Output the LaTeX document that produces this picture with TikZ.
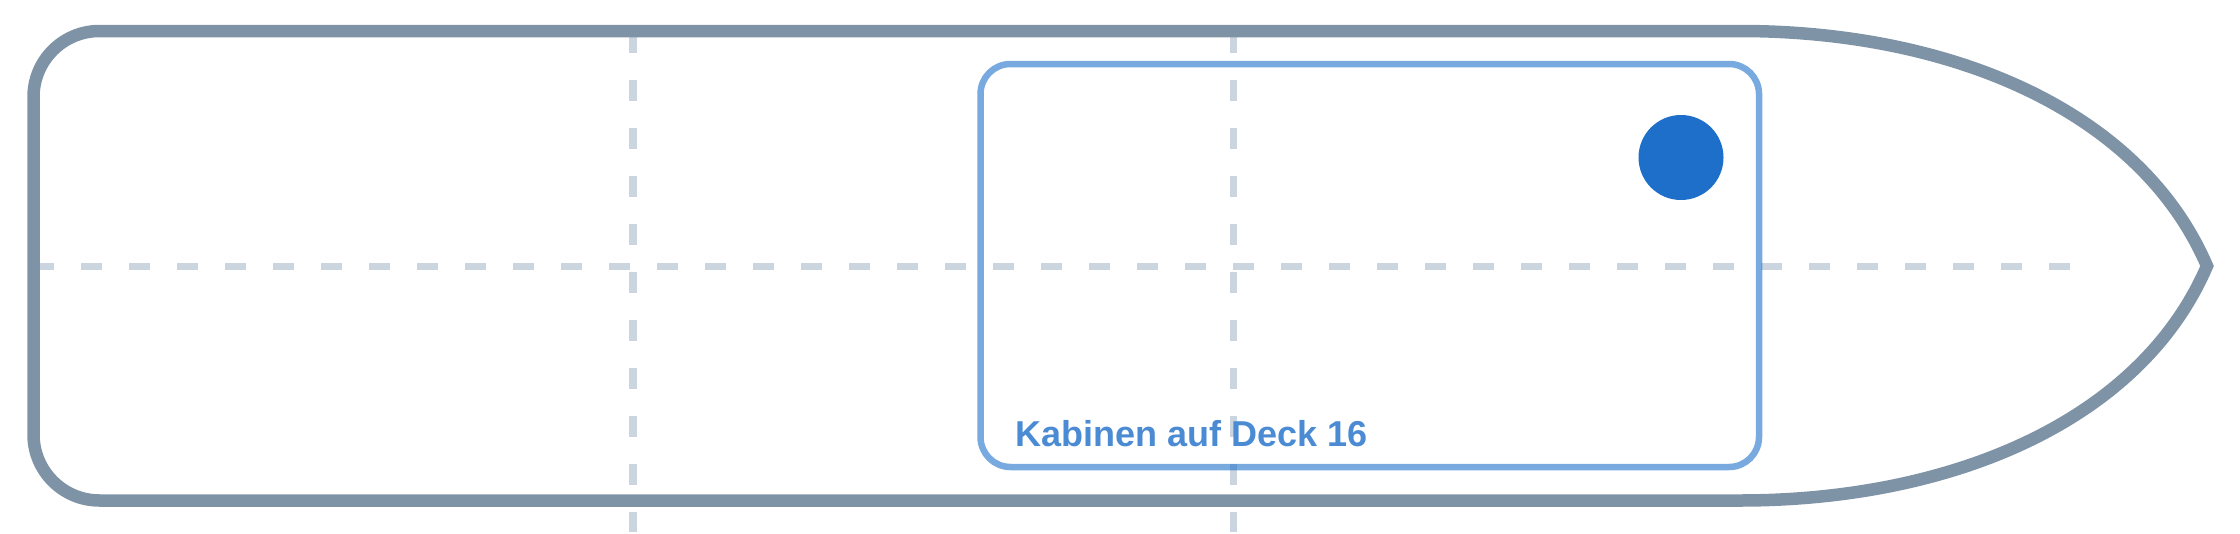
\documentclass[tikz,border=0pt]{standalone}
\usepackage{fontspec}
\setmainfont{Liberation Sans}
\definecolor{hullgray}{RGB}{127,147,167}
\definecolor{deckline}{RGB}{203,213,224}
\definecolor{cabinblue}{RGB}{30,111,202}
\definecolor{labelblue}{RGB}{75,139,212}
\begin{document}
\begin{tikzpicture}[x=1pt,y=-1pt,
	hull/.style={draw=hullgray,line width=12.5pt,line join=miter},
	axisline/.style={draw=deckline,line width=7.5pt,dash pattern=on 21.3pt off 26.7pt},
	cabin/.style={draw=cabinblue,draw opacity=0.6,line width=6.5pt,rounded corners=30pt}]
		\useasboundingbox (0,0) rectangle (2240,533);
		
		\draw [axisline] (33,266.5) -- (2070,266.5);
		\foreach \x in {633,1233.5}
			\draw [axisline] (\x,31.5) -- (\x,532);
		
		\draw [hull] (900,31) -- (99.5,31) .. controls (63,31) and (33.5,60.5) .. (33.5,97)
			-- (33.5,434.5) .. controls (33.5,471) and (63,500.5) .. (99.5,500.5)
			-- (1740,500.5) .. controls (1950,500.5) and (2140,422) .. (2207,266)
			.. controls (2140,110) and (1950,31) .. (1740,31) -- cycle;
		
		\draw [cabin] (980.5,64) rectangle (1759,467);
		\node [circle,fill=cabinblue,minimum size=85pt,inner sep=0pt] (marker) at (1681,157.5) {};
		\node [anchor=base west,inner sep=0pt,text=labelblue,font=\bfseries\fontsize{36}{42}\selectfont] (cabinlabel) at (1015,446) {Kabinen auf Deck 16};
	\end{tikzpicture}
\end{document}
